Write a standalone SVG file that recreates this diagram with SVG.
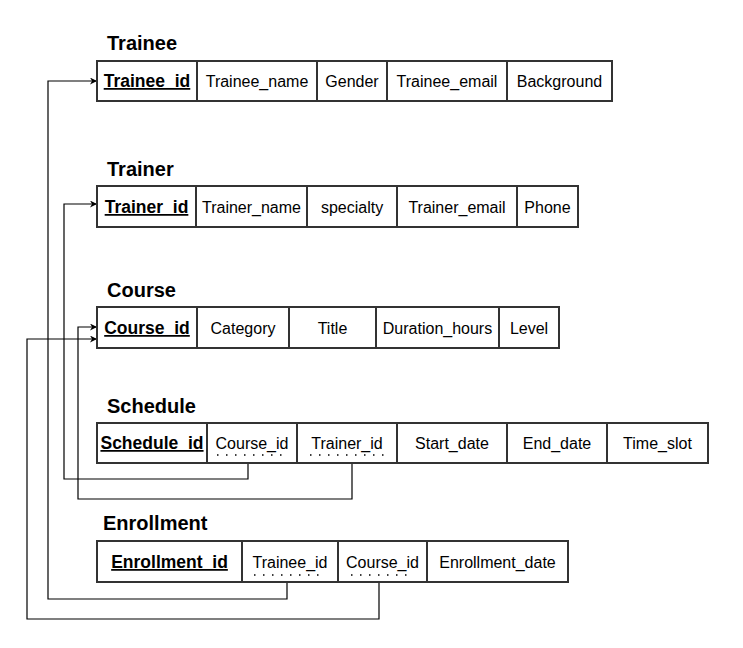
<svg xmlns="http://www.w3.org/2000/svg" width="743" height="648" viewBox="0 0 743 648">
<style>
.cell{fill:#fff;stroke:#333;stroke-width:2}
.t{font-family:"Comic Sans MS","Liberation Sans",sans-serif;font-size:16px;fill:#000;text-anchor:middle}
.k{font-family:"Comic Sans MS","Liberation Sans",sans-serif;font-size:17.5px;font-weight:bold;fill:#000;text-anchor:middle;text-decoration:underline}
.title{font-family:"Comic Sans MS","Liberation Sans",sans-serif;font-size:20px;font-weight:bold;fill:#000}
.fk{stroke:#000;stroke-width:1.5;stroke-dasharray:1.5 7.5;fill:none}
.conn{fill:none;stroke:#000;stroke-width:1.2}
</style>
<defs>
<marker id="arr" viewBox="0 0 10 10" refX="10" refY="5" markerWidth="7" markerHeight="7" markerUnits="userSpaceOnUse" orient="auto">
<path d="M0,0 L10,5 L0,10 L3,5 z" fill="#000"/>
</marker>
</defs>
<rect width="743" height="648" fill="#fff"/>

<g id="connectors">
<path class="conn" d="M287,582 V599 H48 V81 H97" marker-end="url(#arr)"/>
<path class="conn" d="M379,582 V619 H27 V339 H97" marker-end="url(#arr)"/>
<path class="conn" d="M248,463 V479 H64 V204 H97" marker-end="url(#arr)"/>
<path class="conn" d="M338,462 H352 V499 H78 V327 H97" marker-end="url(#arr)"/>
</g>

<g id="trainee">
<text class="title" x="107" y="50">Trainee</text>
<rect class="cell" x="97" y="61" width="100" height="40"/>
<rect class="cell" x="197" y="61" width="120" height="40"/>
<rect class="cell" x="317" y="61" width="70" height="40"/>
<rect class="cell" x="387" y="61" width="120" height="40"/>
<rect class="cell" x="507" y="61" width="105" height="40"/>
<text class="k" x="147" y="87">Trainee_id</text>
<text class="t" x="257" y="87">Trainee_name</text>
<text class="t" x="352" y="87">Gender</text>
<text class="t" x="447" y="87">Trainee_email</text>
<text class="t" x="559.5" y="87">Background</text>
</g>

<g id="trainer">
<text class="title" x="107" y="176">Trainer</text>
<rect class="cell" x="97" y="186" width="99" height="41"/>
<rect class="cell" x="196" y="186" width="111" height="41"/>
<rect class="cell" x="307" y="186" width="90" height="41"/>
<rect class="cell" x="397" y="186" width="120" height="41"/>
<rect class="cell" x="517" y="186" width="61" height="41"/>
<text class="k" x="146.5" y="213">Trainer_id</text>
<text class="t" x="251.5" y="213">Trainer_name</text>
<text class="t" x="352" y="213">specialty</text>
<text class="t" x="457" y="213">Trainer_email</text>
<text class="t" x="547.5" y="213">Phone</text>
</g>

<g id="course">
<text class="title" x="107" y="297">Course</text>
<rect class="cell" x="97" y="307" width="100" height="41"/>
<rect class="cell" x="197" y="307" width="92" height="41"/>
<rect class="cell" x="289" y="307" width="87" height="41"/>
<rect class="cell" x="376" y="307" width="123" height="41"/>
<rect class="cell" x="499" y="307" width="60" height="41"/>
<text class="k" x="147" y="334">Course_id</text>
<text class="t" x="243" y="334">Category</text>
<text class="t" x="332.5" y="334">Title</text>
<text class="t" x="437.5" y="334">Duration_hours</text>
<text class="t" x="529" y="334">Level</text>
</g>

<g id="schedule">
<text class="title" x="107" y="413">Schedule</text>
<rect class="cell" x="97" y="423" width="110" height="40"/>
<rect class="cell" x="207" y="423" width="90" height="40"/>
<rect class="cell" x="297" y="423" width="100" height="40"/>
<rect class="cell" x="397" y="423" width="110" height="40"/>
<rect class="cell" x="507" y="423" width="100" height="40"/>
<rect class="cell" x="607" y="423" width="101" height="40"/>
<text class="k" x="152" y="449">Schedule_id</text>
<text class="t" x="252" y="449">Course_id</text>
<text class="t" x="347" y="449">Trainer_id</text>
<text class="t" x="452" y="449">Start_date</text>
<text class="t" x="557" y="449">End_date</text>
<text class="t" x="657.5" y="449">Time_slot</text>
<line class="fk" x1="217" y1="455" x2="289" y2="455"/>
<line class="fk" x1="310" y1="455" x2="390" y2="455"/>
</g>

<g id="enrollment">
<text class="title" x="103" y="530">Enrollment</text>
<rect class="cell" x="97" y="541" width="145" height="41"/>
<rect class="cell" x="242" y="541" width="96" height="41"/>
<rect class="cell" x="338" y="541" width="89" height="41"/>
<rect class="cell" x="427" y="541" width="141" height="41"/>
<text class="k" x="169.5" y="568">Enrollment_id</text>
<text class="t" x="290" y="568">Trainee_id</text>
<text class="t" x="382.5" y="568">Course_id</text>
<text class="t" x="497.5" y="568">Enrollment_date</text>
<line class="fk" x1="254" y1="575" x2="322" y2="575"/>
<line class="fk" x1="351" y1="575" x2="410" y2="575"/>
</g>
</svg>
